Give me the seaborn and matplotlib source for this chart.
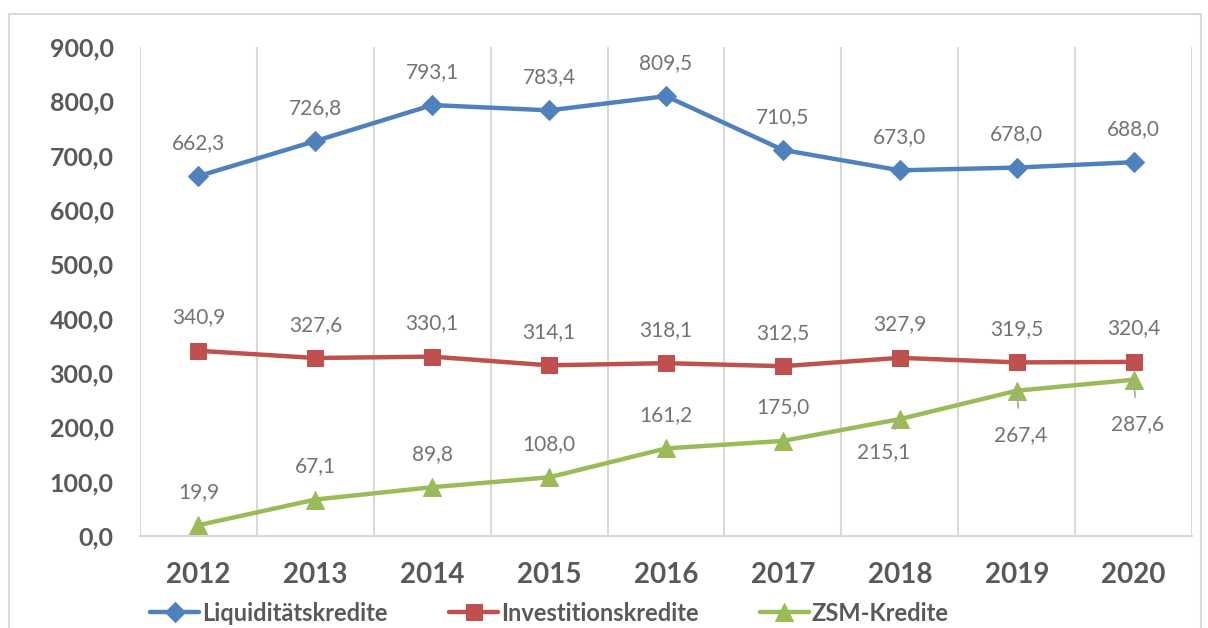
"""
Kreditentwicklung 2012-2020
"""
import matplotlib
import matplotlib.pyplot as plt
import matplotlib.patches as mpatches
import pandas as pd
import seaborn as sns

matplotlib.use("Agg")

years = ["2012", "2013", "2014", "2015", "2016", "2017", "2018", "2019", "2020"]
liquiditaet = [662.3, 726.8, 793.1, 783.4, 809.5, 710.5, 673.0, 678.0, 688.0]
investition = [340.9, 327.6, 330.1, 314.1, 318.1, 312.5, 327.9, 319.5, 320.4]
zsm = [19.9, 67.1, 89.8, 108.0, 161.2, 175.0, 215.1, 267.4, 287.6]
series_names = ["Liquiditätskredite", "Investitionskredite", "ZSM-Kredite"]
y_ticks = [0, 100, 200, 300, 400, 500, 600, 700, 800, 900]

colors = ["#4F81BD", "#C0504D", "#9BBB59"]
markers = ["D", "s", "^"]
marker_sizes = [10, 12, 13]

df = pd.DataFrame({
    "Jahr": years * 3,
    "idx": list(range(len(years))) * 3,
    "Wert": liquiditaet + investition + zsm,
    "Serie": [s for s in series_names for _ in years],
})

sns.set_style("white")
plt.rcParams["font.family"] = ["Lato", "DejaVu Sans"]

fig = plt.figure(figsize=(12.08, 6.28), dpi=100)
ax = fig.add_axes([0.1159, 0.1465, 0.8709, 0.7787])

for name, col, mk, ms in zip(series_names, colors, markers, marker_sizes):
    sub = df[df["Serie"] == name]
    sns.lineplot(
        data=sub, x="idx", y="Wert", ax=ax, color=col, linewidth=3.2,
        marker=mk, markersize=ms, markeredgecolor=col, label=name,
    )

# Datenbeschriftungen
label_color = "#737373"
fmt = lambda v: f"{v:.1f}".replace(".", ",")
for vals in [liquiditaet, investition]:
    for i, v in enumerate(vals):
        ax.annotate(fmt(v), (i, v), xytext=(0, 24), textcoords="offset points",
                    ha="center", va="center", fontsize=15, color=label_color)
for i, v in enumerate(zsm):
    if i < 6:
        ax.annotate(fmt(v), (i, v), xytext=(0, 24), textcoords="offset points",
                    ha="center", va="center", fontsize=15, color=label_color)
    elif i == 6:
        ax.annotate(fmt(v), (i, v), xytext=(-12, -24), textcoords="offset points",
                    ha="center", va="center", fontsize=15, color=label_color,
                    arrowprops=dict(arrowstyle="-", color="#a6a6a6", lw=1.2,
                                    shrinkA=8, shrinkB=2))
    else:
        ax.annotate(fmt(v), (i, v), xytext=(3, -32), textcoords="offset points",
                    ha="center", va="center", fontsize=15, color=label_color,
                    arrowprops=dict(arrowstyle="-", color="#a6a6a6", lw=1.2,
                                    shrinkA=10, shrinkB=2))

ax.set_xlim(-0.5, len(years) - 0.5)
ax.set_ylim(0, 900)
ax.set_xticks(range(len(years)))
ax.set_xticklabels(years)
ax.set_xticks([i - 0.5 for i in range(len(years) + 1)], minor=True)
ax.set_yticks(y_ticks)
ax.set_yticklabels([fmt(t) for t in y_ticks])
ax.set_xlabel("")
ax.set_ylabel("")

ax.grid(False)
ax.grid(True, which="minor", axis="x", color="#d9d9d9", linewidth=1.5)
for s in ["top", "right", "left"]:
    ax.spines[s].set_visible(False)
ax.spines["bottom"].set_color("#d9d9d9")
ax.spines["bottom"].set_linewidth(1.5)

ax.tick_params(axis="both", which="both", length=0)
ax.tick_params(axis="y", pad=19, labelsize=18, labelcolor="#595959")
ax.tick_params(axis="x", pad=19, labelsize=20, labelcolor="#595959")
for t in ax.get_xticklabels() + ax.get_yticklabels():
    t.set_fontweight("bold")

leg = ax.legend(loc="center", bbox_to_anchor=(0.389, -0.158), ncol=3,
                frameon=False, handlelength=2.1, columnspacing=2.6,
                handletextpad=0.1, prop={"weight": "bold", "size": 17})
for t in leg.get_texts():
    t.set_color("#595959")

# Rahmen um die Grafik
fig.patches.append(mpatches.Rectangle(
    (9 / 1208, -0.01), 1192 / 1208, 0.988, transform=fig.transFigure,
    fill=False, edgecolor="#d9d9d9", linewidth=1.5))

fig.savefig("out.png", dpi=100)
